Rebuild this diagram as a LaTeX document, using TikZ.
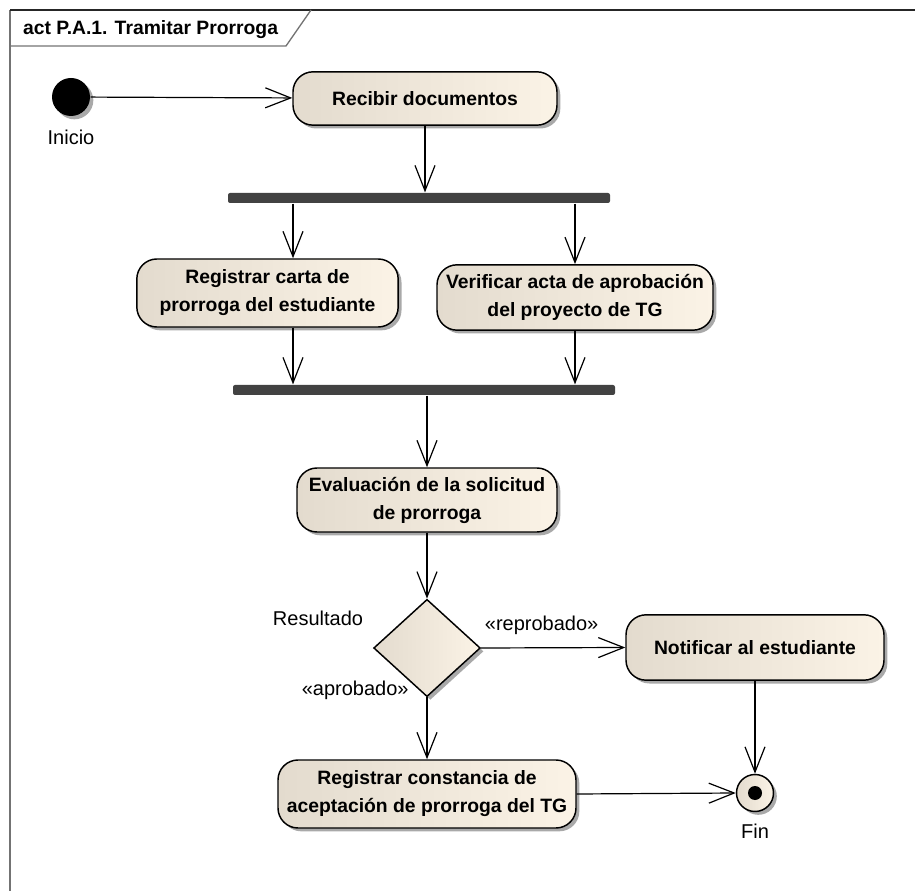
\documentclass[tikz,border=0pt]{standalone}
\usepackage{fontspec}
\setmainfont{Liberation Sans}
\usetikzlibrary{arrows.meta,shapes.geometric,shadows}

\definecolor{beige}{HTML}{E3DBCE}
\definecolor{crema}{HTML}{FBF3E6}
\definecolor{barra}{HTML}{424242}

\begin{document}
\begin{tikzpicture}[x=0.75pt, y=-0.75pt, >={Straight Barb[length=19pt,width=15pt]}, line width=0.9pt,
  font=\fontsize{15}{17}\selectfont,
  sombra/.style={drop shadow={shadow xshift=2.5pt, shadow yshift=-2.5pt, fill=black!45, opacity=0.75}},
  accion/.style={draw, line width=1.1pt, rounded corners=15pt, left color=beige, right color=crema,
    align=center, inner sep=2pt, font=\fontsize{14.5}{21}\selectfont\bfseries, sombra},
  barrafork/.style={fill=barra, rounded corners=1.5pt, minimum width=286.5pt, minimum height=7.5pt, inner sep=0pt},
  decision/.style={diamond, draw, line width=1.1pt, left color=beige, right color=crema,
    minimum width=80pt, minimum height=73pt, inner sep=0pt, sombra}]
  \useasboundingbox (0,0) rectangle (915,891);

  % Marco del diagrama y pestana del titulo
  \draw[black!55, line width=1.1pt] (10,891) -- (10,10);
  \draw[black!85, line width=1.1pt] (10,10) -- (915,10);
  \draw[black!55, line width=1pt] (10,46) -- (286,46) -- (311,10);
  \node[anchor=base west, font=\fontsize{14.5}{17}\selectfont\bfseries] (titulo) at (18,35) {act P.A.1. Tramitar Prorroga};

  % Nodo inicial
  \node[circle, fill=black, minimum size=28.5pt, inner sep=0pt, sombra] (inicio) at (71,97) {};
  \node (lblinicio) at (71,137) {Inicio};

  % Acciones
  \node[accion, minimum width=198pt, minimum height=40pt] (recibir) at (425,98.5) {Recibir documentos};
  \node[barrafork] (barra1) at (419,198) {};
  \node[accion, minimum width=196pt, minimum height=51pt] (registrar) at (267.5,293) {Registrar carta de\\prorroga del estudiante};
  \node[accion, minimum width=207pt, minimum height=49pt] (verificar) at (575,297.5) {Verificar acta de aprobación\\del proyecto de TG};
  \node[barrafork] (barra2) at (424,390) {};
  \node[accion, minimum width=195pt, minimum height=48pt] (evaluacion) at (427,500) {Evaluación de la solicitud\\de prorroga};
  \node[decision] (resultado) at (427,648) {};
  \node (lblresultado) at (318,618) {Resultado};
  \node[accion, minimum width=193.5pt, minimum height=49pt] (notificar) at (755,647.5) {Notificar al estudiante};
  \node[accion, minimum width=223.5pt, minimum height=51pt] (constancia) at (427,794) {Registrar constancia de\\aceptación de prorroga del TG};

  % Nodo final
  \node[circle, draw, line width=1.1pt, left color=beige, right color=crema, minimum size=27.75pt, inner sep=0pt, sombra] (fin) at (755,793) {};
  \fill (fin.center) circle (5.25pt);
  \node (lblfin) at (755,831) {Fin};

  % Flujos
  \coordinate (ramaizq) at (293,200);
  \draw[->] (inicio) -- (recibir);
  \draw[->] (recibir.south) -- (recibir.south |- barra1.north);
  \draw[->] (ramaizq |- barra1.south) -- (ramaizq |- registrar.north);
  \draw[->] (barra1.south -| verificar.north) -- (verificar.north);
  \draw[->] (ramaizq |- registrar.south) -- (ramaizq |- barra2.north);
  \draw[->] (verificar.south) -- (verificar.south |- barra2.north);
  \draw[->] (barra2.south -| evaluacion.north) -- (evaluacion.north);
  \draw[->] (evaluacion.south) -- (resultado.north);
  \draw[->] (resultado.east) -- (notificar.west) node[pos=0.42, above=6pt] {«reprobado»};
  \draw[->] (resultado.south) -- (constancia.north) node[pos=0, anchor=east, xshift=-10pt, yshift=5pt] {«aprobado»};
  \draw[->] (notificar.south) -- (fin.north);
  \draw[->] (constancia.east) -- (fin.west);
\end{tikzpicture}
\end{document}
